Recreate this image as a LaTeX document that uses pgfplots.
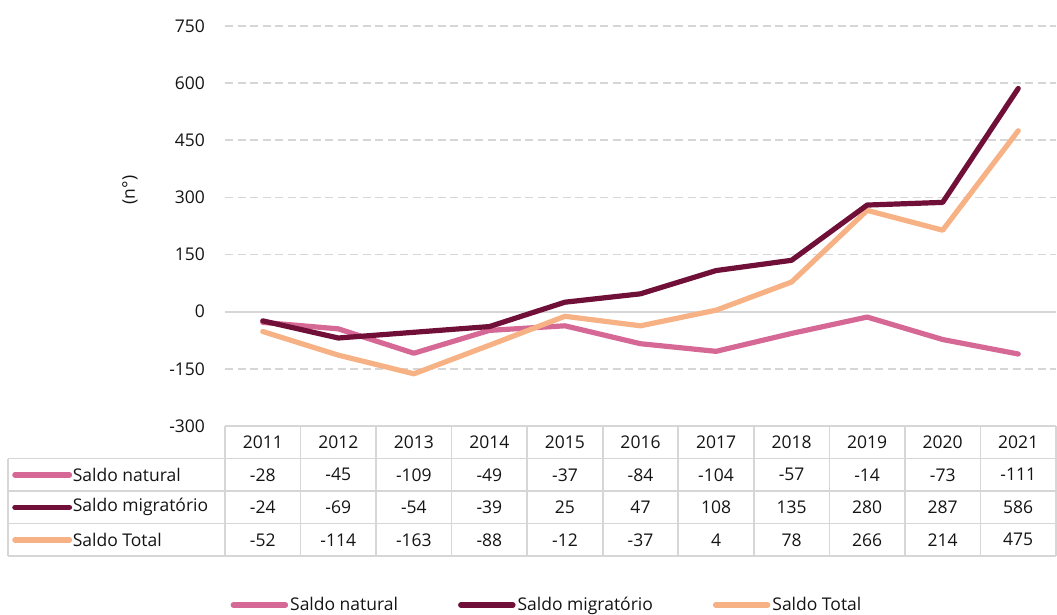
\documentclass[border=0pt]{standalone}
\usepackage{fontspec}
\setmainfont{Open Sans}
\usepackage{pgfplots}
\usepackage{pgfplotstable}
\pgfplotsset{compat=1.18}
\definecolor{cnat}{RGB}{214,104,150}
\definecolor{cmig}{RGB}{112,16,56}
\definecolor{ctot}{RGB}{246,178,132}
\definecolor{cgrid}{RGB}{214,214,214}
\definecolor{ctext}{RGB}{20,20,20}

\pgfplotstableread{
year nat mig tot
2011 -28 -24 -52
2012 -45 -69 -114
2013 -109 -54 -163
2014 -49 -39 -88
2015 -37 25 -12
2016 -84 47 -37
2017 -104 108 4
2018 -57 135 78
2019 -14 280 266
2020 -73 287 214
2021 -111 586 475
}\data

\newcommand{\tf}{\fontsize{17.5}{20}\selectfont}

\begin{document}
\tf
\begin{tikzpicture}[x=1pt,y=1pt]
\useasboundingbox (0,0) rectangle (1057,614);
\begin{axis}[
  at={(225pt,188pt)}, anchor=south west,
  scale only axis, width=831pt, height=400pt,
  xmin=-0.5, xmax=10.5, ymin=-300, ymax=750,
  axis line style={draw=none},
  xtick=\empty,
  ytick={-300,-150,0,150,300,450,600,750},
  yticklabels={-300,-150,0,150,300,450,600,750},
  extra y ticks={0}, extra y tick labels={},
  extra y tick style={grid style={solid, cgrid, line width=1.6pt}},
  ymajorgrids,
  grid style={cgrid, dash pattern=on 8pt off 4.5pt, line width=1.8pt},
  major tick length=0pt,
  yticklabel style={font=\tf, text=ctext, xshift=-14pt},
  clip=false,
  legend style={at={(0.3875,-0.4475)}, anchor=center, draw=none, fill=none,
    font=\tf, text=ctext, legend columns=3,
    /tikz/every even column/.append style={column sep=58pt}},
  legend image code/.code={\draw[#1, line width=5.5pt, line cap=round] (0pt,0pt) -- (52pt,0pt);},
]
\addplot[cnat, line width=5.2pt, line join=round, line cap=round] table[x expr=\coordindex, y=nat] {\data};
\addlegendentry{Saldo natural}
\addplot[ctot, line width=5.2pt, line join=round, line cap=round, forget plot] table[x expr=\coordindex, y=tot] {\data};
\addplot[cmig, line width=5.2pt, line join=round, line cap=round] table[x expr=\coordindex, y=mig] {\data};
\addlegendentry{Saldo migratório}
\addlegendimage{ctot}
\addlegendentry{Saldo Total}
\node[rotate=90, font=\tf, text=ctext] at (axis description cs:-0.1143,0.59) {(n°)};
\end{axis}

\begin{axis}[
  at={(225pt,58pt)}, anchor=south west,
  scale only axis, width=831pt, height=130pt,
  xmin=-0.5, xmax=10.5, ymin=0, ymax=4,
  hide axis, clip=false,
  nodes near coords style={anchor=center, font=\tf, text=ctext},
]
\pgfplotsinvokeforeach{-0.5,0.5,1.5,2.5,3.5,4.5,5.5,6.5,7.5,8.5,9.5,10.5}{
  \draw[cgrid, line width=1.6pt] (axis cs:#1,0) -- (axis cs:#1,4);
}
\pgfplotsinvokeforeach{0,1,2,3}{
  \draw[cgrid, line width=1.6pt] (axis cs:-3.374,#1) -- (axis cs:10.5,#1);
}
\draw[cgrid, line width=1.6pt] (axis cs:-0.5,4) -- (axis cs:10.5,4);
\draw[cgrid, line width=1.6pt] (axis cs:-3.374,0) -- (axis cs:-3.374,3);

\addplot[draw=none, mark=none, point meta=explicit symbolic, nodes near coords]
  table[x expr=\coordindex, y expr=3.5, meta=year] {\data};
\addplot[draw=none, mark=none, point meta=explicit symbolic, nodes near coords]
  table[x expr=\coordindex, y expr=2.5, meta=nat] {\data};
\addplot[draw=none, mark=none, point meta=explicit symbolic, nodes near coords]
  table[x expr=\coordindex, y expr=1.5, meta=mig] {\data};
\addplot[draw=none, mark=none, point meta=explicit symbolic, nodes near coords]
  table[x expr=\coordindex, y expr=0.5, meta=tot] {\data};

\draw[cnat, line width=5.5pt, line cap=round] (axis cs:-3.28,2.5) -- (axis cs:-2.56,2.5);
\draw[cmig, line width=5.5pt, line cap=round] (axis cs:-3.28,1.5) -- (axis cs:-2.56,1.5);
\draw[ctot, line width=5.5pt, line cap=round] (axis cs:-3.28,0.5) -- (axis cs:-2.56,0.5);
\node[anchor=west, font=\tf, text=ctext, inner sep=1pt] at (axis cs:-2.53,2.5) {Saldo natural};
\node[anchor=west, font=\tf, text=ctext, inner sep=1pt] at (axis cs:-2.53,1.5) {Saldo migratório};
\node[anchor=west, font=\tf, text=ctext, inner sep=1pt] at (axis cs:-2.53,0.5) {Saldo Total};
\end{axis}
\end{tikzpicture}
\end{document}
